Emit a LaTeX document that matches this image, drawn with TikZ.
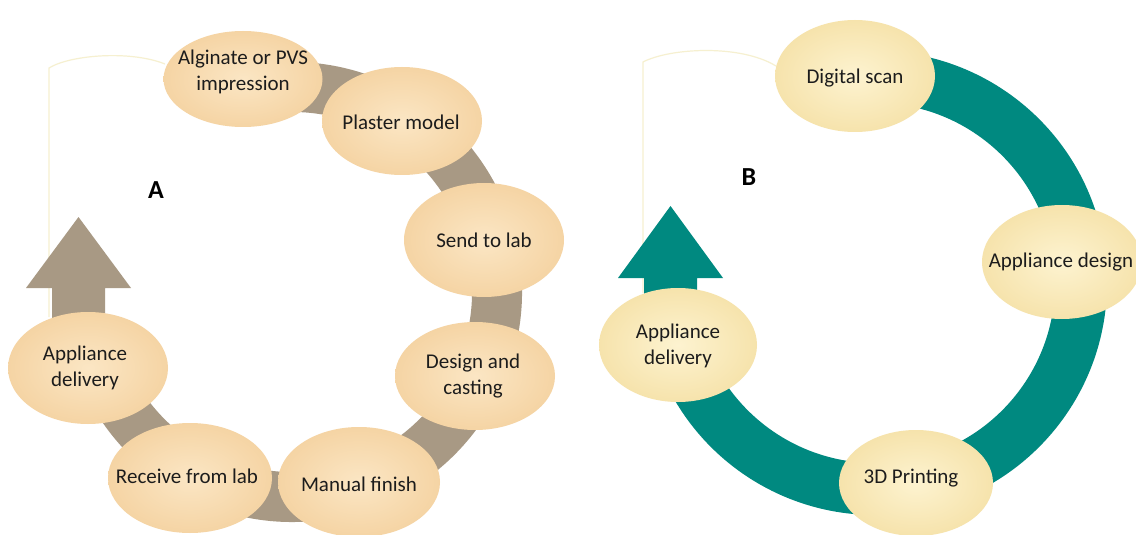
\documentclass[tikz,border=0pt]{standalone}
\usepackage{fontspec}
\setmainfont{Carlito}
\usetikzlibrary{shapes.geometric}
\definecolor{taupe}{RGB}{168,153,132}
\definecolor{tealband}{RGB}{0,137,128}
\definecolor{peachin}{RGB}{251,230,196}
\definecolor{peachout}{RGB}{245,212,164}
\definecolor{creamin}{RGB}{253,243,208}
\definecolor{creamout}{RGB}{246,227,172}
\definecolor{faintline}{RGB}{246,240,208}
\definecolor{txt}{RGB}{28,28,28}
\begin{document}
\begin{tikzpicture}[x=0.5pt,y=-0.5pt,
  stage/.style={ellipse, inner sep=0pt, minimum width=80pt, minimum height=55pt},
  stageA/.style={stage, shading=radial, inner color=peachin, outer color=peachout},
  stageB/.style={stage, shading=radial, inner color=creamin, outer color=creamout},
  lbl/.style={align=center, text=txt, inner sep=0pt, font=\fontsize{10.5}{13}\selectfont},
  panel/.style={font=\bfseries\fontsize{13}{15}\selectfont, text=black},
  ringA/.style={draw=taupe, line width=25pt},
  ringB/.style={draw=tealband, line width=26pt},
  guide/.style={draw=faintline, line width=0.6pt}
]
\useasboundingbox (0,0) rectangle (1136,535);
\fill[white] (0,0) rectangle (1136,535);

% faint guide lines
\draw[guide] (49,317) -- (49,68) .. controls (70,55) and (130,50) .. (165,64);
\draw[guide] (643,293) -- (643,62) .. controls (670,48) and (740,44) .. (776,66);

% ring centres
\coordinate (ca) at (292,292);
\coordinate (cb) at (875,283);

% bands
\draw[ringA] (ca) ++(103:102.5pt) arc[start angle=103, end angle=-160, radius=102.5pt];
\draw[ringB] (cb) ++(95:103pt) arc[start angle=95, end angle=-162, radius=103pt];

% arrows
\fill[taupe] (52,322) -- (52,288) -- (26,288) -- (78.5,217) -- (131,288) -- (105,288) -- (105,322) -- cycle;
\fill[tealband] (644,300) -- (644,278) -- (618,278) -- (670.5,206) -- (723,278) -- (697,278) -- (697,300) -- cycle;

% panel A stages
\node[stageA, minimum height=48pt, minimum width=79.5pt] (alg) at (243,79) {};
\node[stageA, minimum height=54pt] (pla) at (402,121) {};
\node[stageA, minimum height=57pt] (sen) at (484,240) {};
\node[stageA, minimum height=54pt] (des) at (475,376) {};
\node[stageA, minimum height=55pt, minimum width=81pt] (man) at (359,482) {};
\node[stageA, minimum height=55pt, minimum width=82pt] (rec) at (190,478) {};
\node[stageA, minimum height=56pt] (appA) at (88,368) {};

\node[lbl] (algT) at (243,72) {Alginate or PVS\\impression};
\node[lbl] (plaT) at (401,122) {Plaster model};
\node[lbl] (senT) at (484,240) {Send to lab};
\node[lbl] (desT) at (473,376) {Design and\\casting};
\node[lbl] (manT) at (359,484) {Manual finish};
\node[lbl] (recT) at (187,476) {Receive from lab};
\node[lbl] (appAT) at (85,368) {Appliance\\delivery};

% panel B stages
\node[stageB, minimum height=56pt] (dig) at (855,76) {};
\node[stageB, minimum height=57pt] (ades) at (1062,262) {};
\node[stageB, minimum height=53pt, minimum width=77pt] (pri) at (916,483) {};
\node[stageB, minimum height=57pt, minimum width=79pt] (appB) at (678,345) {};

\node[lbl] (digT) at (855,78) {Digital scan};
\node[lbl] (adesT) at (1061,262) {Appliance design};
\node[lbl] (priT) at (911,478) {3D Printing};
\node[lbl] (appBT) at (678,346) {Appliance\\delivery};

% panel labels
\node[panel] (labA) at (156,190) {A};
\node[panel] (labB) at (749,177) {B};
\end{tikzpicture}
\end{document}
